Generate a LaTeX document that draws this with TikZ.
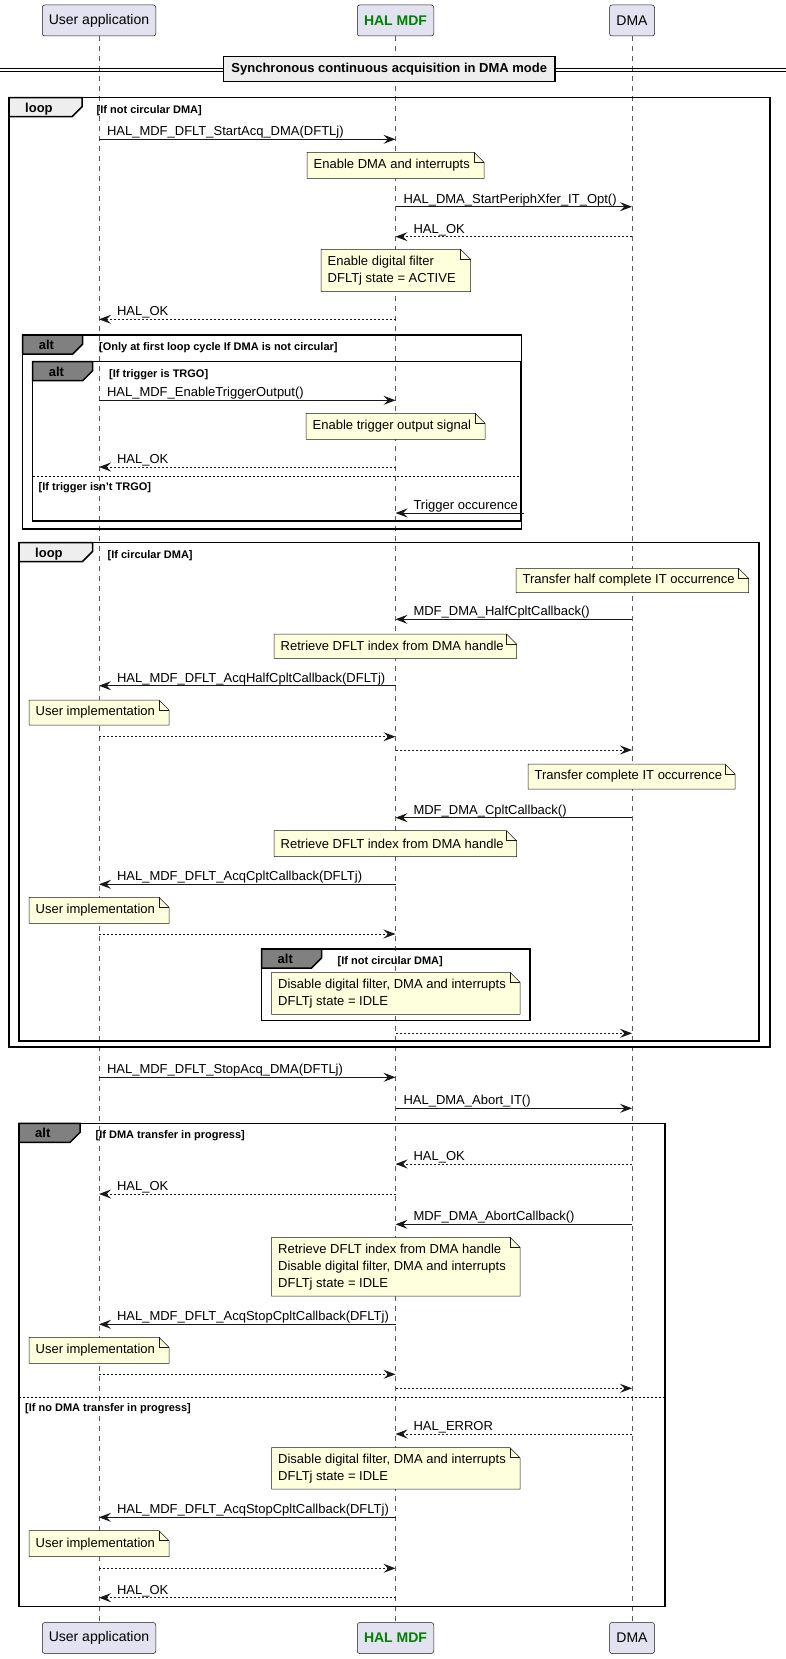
\documentclass[tikz,border=0pt]{standalone}
\usepackage{fontspec}
\setmainfont{Liberation Sans}
\usetikzlibrary{arrows.meta}
\definecolor{partfill}{HTML}{E2E2F0}
\definecolor{linec}{HTML}{181818}
\definecolor{notefill}{HTML}{FEFFDD}
\definecolor{loopfill}{HTML}{EEEEEE}
\definecolor{altfill}{HTML}{808080}
\definecolor{halgreen}{HTML}{008000}

\tikzset{
  part/.style={draw=linec, fill=partfill, line width=0.5pt, rounded corners=2.5pt,
    minimum height=31pt, inner sep=0pt, font=\fontsize{14pt}{16pt}\selectfont},
  lifeline/.style={draw=black!65, line width=0.5pt, dash pattern=on 5pt off 5pt},
  msgline/.style={draw=linec, line width=1pt, -{Stealth[length=12pt,width=9pt,inset=4.5pt]}},
  retline/.style={msgline, dash pattern=on 2pt off 2pt},
  msgtext/.style={font=\fontsize{13pt}{15pt}\selectfont, inner sep=0pt, text=black},
  notebg/.style={draw=linec, fill=notefill, line width=0.5pt},
  notetext/.style={font=\fontsize{13pt}{17pt}\selectfont, inner sep=0pt, align=left},
  frame/.style={draw=black, line width=1.5pt},
  sepline/.style={draw=black, line width=1pt, dash pattern=on 2pt off 2pt},
  guardtext/.style={font=\bfseries\fontsize{11pt}{13pt}\selectfont, inner sep=0pt},
  tablabel/.style={font=\bfseries\fontsize{13pt}{15pt}\selectfont, inner sep=0pt},
}

\newcommand\msgR[5]{\draw[#1] (#2 |- 0,#4) -- (#3 |- 0,#4)
  node[msgtext, pos=0, anchor=base west, xshift=7.5pt, yshift=3.5pt] {#5};}
\newcommand\msgL[5]{\draw[#1] (#2 |- 0,#4) -- (#3 |- 0,#4)
  node[msgtext, pos=1, anchor=base west, xshift=17.5pt, yshift=3.5pt] {#5};}
\newcommand\mynote[6]{%
  \draw[notebg] (#2,#3) -- ({#4-10},#3) -- (#4,{#3+10}) -- (#4,#5) -- (#2,#5) -- cycle;
  \draw[notebg, fill=none] ({#4-10},#3) -- ({#4-10},{#3+10}) -- (#4,{#3+10});
  \node[notetext, anchor=west] (#1) at ({#2+6.5},{(#3+#5)/2}) {#6};}
\newcommand\mygroup[9]{%
  \draw[frame] (#1,#2) rectangle (#3,#4);
  \filldraw[frame, fill=#6] (#1,#2) -- ({#1+#5},#2) -- ({#1+#5},{#2+9}) -- ({#1+#5-10},{#2+19}) -- (#1,{#2+19}) -- cycle;
  \node[tablabel, anchor=base west] at ({#1+16},{#2+14.5}) {#7};
  \node[guardtext, anchor=base west] at (#8,{#2+15.5}) {#9};}

\begin{document}
\begin{tikzpicture}[x=1pt, y=-1pt]
\useasboundingbox (0,0) rectangle (786,1659);

% participants
\node[part, minimum width=113.5pt] (ua) at (99,20.5) {User application};
\node[part, minimum width=76.5pt, text=halgreen, font=\bfseries\fontsize{14pt}{16pt}\selectfont] (hal) at (395.5,20.5) {HAL MDF};
\node[part, minimum width=45pt] (dma) at (632,20.5) {DMA};
\node[part, minimum width=113.5pt] (uab) at (99,1638) {User application};
\node[part, minimum width=76.5pt, text=halgreen, font=\bfseries\fontsize{14pt}{16pt}\selectfont] (halb) at (395.5,1638) {HAL MDF};
\node[part, minimum width=45pt] (dmab) at (632,1638) {DMA};

\draw[lifeline] (ua.south) -- (uab.north);
\draw[lifeline] (hal.south) -- (halb.north);
\draw[lifeline] (dma.south) -- (dmab.north);

% divider
\draw[line width=1pt] (0,69) -- (786,69);
\draw[line width=1pt] (0,72) -- (786,72);
\node[draw=black, line width=1.5pt, fill=loopfill, minimum width=331.5pt, minimum height=25pt, inner sep=0pt,
  font=\bfseries\fontsize{13pt}{15pt}\selectfont] (divider) at (389.25,69.2) {Synchronous continuous acquisition in DMA mode};

% outer loop
\mygroup{9}{97.7}{770}{1047}{73}{loopfill}{loop}{96.5}{[If not circular DMA]}
\msgR{msgline}{ua}{hal}{139.3}{HAL\_MDF\_DFLT\_StartAcq\_DMA(DFTLj)}
\mynote{n1}{307}{152.3}{484}{178.3}{Enable DMA and interrupts}
\msgR{msgline}{hal}{dma}{206.7}{HAL\_DMA\_StartPeriphXfer\_IT\_Opt()}
\msgL{retline}{dma}{hal}{236.7}{HAL\_OK}
\mynote{n2}{321}{249.3}{470.5}{291.7}{Enable digital filter\\DFLTj state = ACTIVE}
\msgL{retline}{hal}{ua}{319.3}{HAL\_OK}

% alt first loop
\mygroup{22.7}{335}{521.5}{529}{60}{altfill}{alt}{99}{[Only at first loop cycle If DMA is not circular]}
\mygroup{32.7}{361.7}{521}{521}{60}{altfill}{alt}{109}{[If trigger is TRGO]}
\msgR{msgline}{ua}{hal}{400.3}{HAL\_MDF\_EnableTriggerOutput()}
\mynote{n3}{306}{413.3}{485}{439.3}{Enable trigger output signal}
\msgL{retline}{hal}{ua}{467}{HAL\_OK}
\draw[sepline] (32.7,476) -- (521,476);
\node[guardtext, anchor=base west] (g1) at (38.5,490.5) {[If trigger isn't TRGO]};
\coordinate (trig) at (524,513);
\msgL{msgline}{trig}{hal}{513}{Trigger occurence}

% loop circular
\mygroup{19}{542.5}{759}{1041}{73.5}{loopfill}{loop}{107.5}{[If circular DMA]}
\mynote{n4}{516}{568.3}{748.5}{592.7}{Transfer half complete IT occurrence}
\msgL{msgline}{dma}{hal}{619.3}{MDF\_DMA\_HalfCpltCallback()}
\mynote{n5}{274}{634}{516.5}{658.3}{Retrieve DFLT index from DMA handle}
\msgL{msgline}{hal}{ua}{685.7}{HAL\_MDF\_DFLT\_AcqHalfCpltCallback(DFLTj)}
\mynote{n6}{29}{700}{169}{725}{User implementation}
\draw[retline] (ua |- 0,736.7) -- (hal |- 0,736.7);
\draw[retline] (hal |- 0,750) -- (dma |- 0,750);
\mynote{n7}{528}{764}{735}{789}{Transfer complete IT occurrence}
\msgL{msgline}{dma}{hal}{817.7}{MDF\_DMA\_CpltCallback()}
\mynote{n8}{274}{830.7}{516.5}{856.7}{Retrieve DFLT index from DMA handle}
\msgL{msgline}{hal}{ua}{884.3}{HAL\_MDF\_DFLT\_AcqCpltCallback(DFLTj)}
\mynote{n9}{29}{897.3}{169}{923.3}{User implementation}
\draw[retline] (ua |- 0,934) -- (hal |- 0,934);
\mygroup{261.5}{949}{530}{1020.7}{60}{altfill}{alt}{337.5}{[If not circular DMA]}
\mynote{n10}{271.5}{972.3}{520}{1014.3}{Disable digital filter, DMA and interrupts\\DFLTj state = IDLE}
\draw[retline] (hal |- 0,1033.3) -- (dma |- 0,1033.3);

% stop
\msgR{msgline}{ua}{hal}{1077.3}{HAL\_MDF\_DFLT\_StopAcq\_DMA(DFTLj)}
\msgR{msgline}{hal}{dma}{1108.3}{HAL\_DMA\_Abort\_IT()}
\mygroup{19}{1123.3}{665}{1606.7}{61}{altfill}{alt}{95.5}{[If DMA transfer in progress]}
\msgL{retline}{dma}{hal}{1164}{HAL\_OK}
\msgL{retline}{hal}{ua}{1194}{HAL\_OK}
\msgL{msgline}{dma}{hal}{1224.3}{MDF\_DMA\_AbortCallback()}
\mynote{n11}{271.5}{1237.3}{520}{1296}{Retrieve DFLT index from DMA handle\\Disable digital filter, DMA and interrupts\\DFLTj state = IDLE}
\msgL{msgline}{hal}{ua}{1324.3}{HAL\_MDF\_DFLT\_AcqStopCpltCallback(DFLTj)}
\mynote{n12}{29}{1337.3}{169}{1363.3}{User implementation}
\draw[retline] (ua |- 0,1374.3) -- (hal |- 0,1374.3);
\draw[retline] (hal |- 0,1388.3) -- (dma |- 0,1388.3);
\draw[sepline] (19,1397.3) -- (665,1397.3);
\node[guardtext, anchor=base west] (g2) at (25,1411.5) {[If no DMA transfer in progress]};
\msgL{retline}{dma}{hal}{1434}{HAL\_ERROR}
\mynote{n13}{271.5}{1447.7}{520}{1489}{Disable digital filter, DMA and interrupts\\DFLTj state = IDLE}
\msgL{msgline}{hal}{ua}{1517.3}{HAL\_MDF\_DFLT\_AcqStopCpltCallback(DFLTj)}
\mynote{n14}{29}{1530.7}{169}{1556.7}{User implementation}
\draw[retline] (ua |- 0,1568.3) -- (hal |- 0,1568.3);
\msgL{retline}{hal}{ua}{1597.7}{HAL\_OK}
\end{tikzpicture}
\end{document}
